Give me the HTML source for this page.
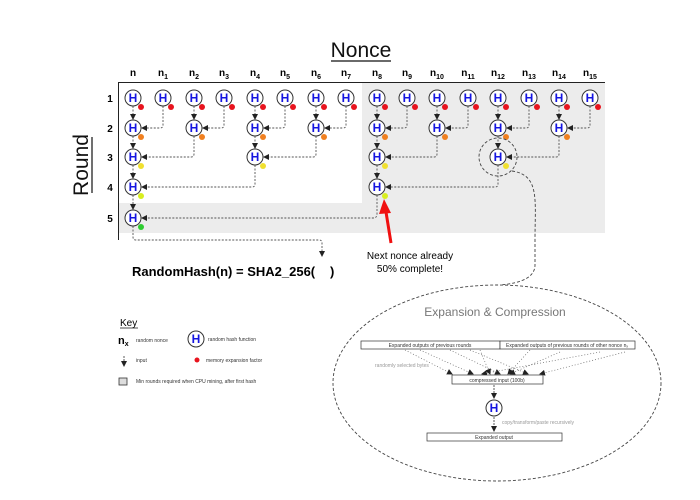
<!DOCTYPE html>
<html><head><meta charset="utf-8"><style>
html,body{margin:0;padding:0;background:#fff;}
svg{display:block;font-family:"Liberation Sans",sans-serif;}
.h{font-weight:bold;font-size:12px;fill:#1515e0;text-anchor:middle;}
.n{fill:#fff;stroke:#333;stroke-width:1;}
.d{fill:none;stroke:#555;stroke-width:0.9;stroke-dasharray:2 1.5;}
.cl{font-weight:bold;font-size:10px;text-anchor:middle;}
.sm{font-size:5px;fill:#333;text-anchor:middle;}
.g{font-size:5px;fill:#999;}
</style></head><body>
<svg width="700" height="500" viewBox="0 0 700 500" xmlns="http://www.w3.org/2000/svg">
<defs>
<marker id="a" markerWidth="6" markerHeight="6" refX="5" refY="3" orient="auto" markerUnits="userSpaceOnUse"><path d="M0,0 L6,3 L0,6 z" fill="#222"/></marker>
<marker id="b" markerWidth="8" markerHeight="8" refX="7" refY="4" orient="auto" markerUnits="userSpaceOnUse"><path d="M0,0 L8,4 L0,8 z" fill="#222"/></marker>
</defs>
<!-- backgrounds -->
<rect x="362" y="83" width="243" height="150" fill="#ececec"/>
<rect x="118" y="203" width="487" height="30" fill="#ececec"/>
<line x1="118" y1="82.5" x2="605" y2="82.5" stroke="#222" stroke-width="1"/>
<line x1="118.5" y1="82" x2="118.5" y2="240" stroke="#222" stroke-width="1"/>
<!-- titles -->
<text x="361" y="57" font-size="21" text-anchor="middle" fill="#111">Nonce</text>
<line x1="331" y1="61" x2="391" y2="61" stroke="#111" stroke-width="1.2"/>
<text transform="translate(88,165) rotate(-90)" font-size="21" text-anchor="middle" fill="#111">Round</text>
<line x1="92" y1="137" x2="92" y2="193" stroke="#111" stroke-width="1.2"/>
<!-- column labels -->
<g class="cl">
<text x="133" y="76">n</text>
<text x="163" y="76">n<tspan font-size="7" dy="3">1</tspan></text>
<text x="194" y="76">n<tspan font-size="7" dy="3">2</tspan></text>
<text x="224" y="76">n<tspan font-size="7" dy="3">3</tspan></text>
<text x="255" y="76">n<tspan font-size="7" dy="3">4</tspan></text>
<text x="285" y="76">n<tspan font-size="7" dy="3">5</tspan></text>
<text x="316" y="76">n<tspan font-size="7" dy="3">6</tspan></text>
<text x="346" y="76">n<tspan font-size="7" dy="3">7</tspan></text>
<text x="377" y="76">n<tspan font-size="7" dy="3">8</tspan></text>
<text x="407" y="76">n<tspan font-size="7" dy="3">9</tspan></text>
<text x="437" y="76">n<tspan font-size="7" dy="3">10</tspan></text>
<text x="468" y="76">n<tspan font-size="7" dy="3">11</tspan></text>
<text x="498" y="76">n<tspan font-size="7" dy="3">12</tspan></text>
<text x="529" y="76">n<tspan font-size="7" dy="3">13</tspan></text>
<text x="559" y="76">n<tspan font-size="7" dy="3">14</tspan></text>
<text x="590" y="76">n<tspan font-size="7" dy="3">15</tspan></text>
<text x="110" y="102">1</text><text x="110" y="132">2</text><text x="110" y="161">3</text><text x="110" y="191">4</text><text x="110" y="222">5</text>
</g>
<!-- connectors -->
<g class="d" marker-end="url(#a)">
<line x1="133" y1="106" x2="133" y2="119"/><line x1="194" y1="106" x2="194" y2="119"/><line x1="255" y1="106" x2="255" y2="119"/><line x1="316" y1="106" x2="316" y2="119"/>
<line x1="377" y1="106" x2="377" y2="119"/><line x1="437" y1="106" x2="437" y2="119"/><line x1="498" y1="106" x2="498" y2="119"/><line x1="559" y1="106" x2="559" y2="119"/>
<path d="M163,106 V125 Q163,128 160,128 H142"/><path d="M224,106 V125 Q224,128 221,128 H203"/><path d="M285,106 V125 Q285,128 282,128 H264"/><path d="M346,106 V125 Q346,128 343,128 H325"/>
<path d="M407,106 V125 Q407,128 404,128 H386"/><path d="M468,106 V125 Q468,128 465,128 H446"/><path d="M529,106 V125 Q529,128 526,128 H507"/><path d="M590,106 V125 Q590,128 587,128 H568"/>
<line x1="133" y1="136" x2="133" y2="148"/><line x1="255" y1="136" x2="255" y2="148"/><line x1="377" y1="136" x2="377" y2="148"/><line x1="498" y1="136" x2="498" y2="148"/>
<path d="M194,136 V154 Q194,157 191,157 H142"/><path d="M316,136 V154 Q316,157 313,157 H264"/><path d="M437,136 V154 Q437,157 434,157 H386"/><path d="M559,136 V154 Q559,157 556,157 H507"/>
<line x1="133" y1="165" x2="133" y2="178"/><line x1="377" y1="165" x2="377" y2="178"/>
<path d="M255,165 V184 Q255,187 252,187 H142"/><path d="M498,165 V184 Q498,187 495,187 H386"/>
<line x1="133" y1="195" x2="133" y2="209"/>
<path d="M377,195 V214 Q377,218 373,218 H142"/>
<path d="M133,226 V237 Q133,240 136,240 H319 Q322,240 322,243 V256"/>
</g>
<!-- nodes -->
<g>
<g class="n">
<circle cx="133" cy="98" r="8"/><circle cx="163" cy="98" r="8"/><circle cx="194" cy="98" r="8"/><circle cx="224" cy="98" r="8"/><circle cx="255" cy="98" r="8"/><circle cx="285" cy="98" r="8"/><circle cx="316" cy="98" r="8"/><circle cx="346" cy="98" r="8"/>
<circle cx="377" cy="98" r="8"/><circle cx="407" cy="98" r="8"/><circle cx="437" cy="98" r="8"/><circle cx="468" cy="98" r="8"/><circle cx="498" cy="98" r="8"/><circle cx="529" cy="98" r="8"/><circle cx="559" cy="98" r="8"/><circle cx="590" cy="98" r="8"/>
<circle cx="133" cy="128" r="8"/><circle cx="194" cy="128" r="8"/><circle cx="255" cy="128" r="8"/><circle cx="316" cy="128" r="8"/><circle cx="377" cy="128" r="8"/><circle cx="437" cy="128" r="8"/><circle cx="498" cy="128" r="8"/><circle cx="559" cy="128" r="8"/>
<circle cx="133" cy="157" r="8"/><circle cx="255" cy="157" r="8"/><circle cx="377" cy="157" r="8"/><circle cx="498" cy="157" r="8"/>
<circle cx="133" cy="187" r="8"/><circle cx="377" cy="187" r="8"/>
<circle cx="133" cy="218" r="8"/>
</g>
<g fill="#e8141e">
<circle cx="141" cy="107" r="3"/><circle cx="171" cy="107" r="3"/><circle cx="202" cy="107" r="3"/><circle cx="232" cy="107" r="3"/><circle cx="263" cy="107" r="3"/><circle cx="293" cy="107" r="3"/><circle cx="324" cy="107" r="3"/><circle cx="354" cy="107" r="3"/>
<circle cx="385" cy="107" r="3"/><circle cx="415" cy="107" r="3"/><circle cx="445" cy="107" r="3"/><circle cx="476" cy="107" r="3"/><circle cx="506" cy="107" r="3"/><circle cx="537" cy="107" r="3"/><circle cx="567" cy="107" r="3"/><circle cx="598" cy="107" r="3"/>
</g>
<g fill="#f08020">
<circle cx="141" cy="137" r="3"/><circle cx="202" cy="137" r="3"/><circle cx="263" cy="137" r="3"/><circle cx="324" cy="137" r="3"/><circle cx="385" cy="137" r="3"/><circle cx="445" cy="137" r="3"/><circle cx="506" cy="137" r="3"/><circle cx="567" cy="137" r="3"/>
</g>
<g fill="#f0e030"><circle cx="141" cy="166" r="3"/><circle cx="263" cy="166" r="3"/><circle cx="385" cy="166" r="3"/><circle cx="506" cy="166" r="3"/></g>
<g fill="#d8ee20"><circle cx="141" cy="196" r="3"/><circle cx="385" cy="196" r="3"/></g>
<circle cx="141" cy="227" r="3" fill="#2ecc30"/>
<g class="h">
<text x="133" y="102">H</text><text x="163" y="102">H</text><text x="194" y="102">H</text><text x="224" y="102">H</text><text x="255" y="102">H</text><text x="285" y="102">H</text><text x="316" y="102">H</text><text x="346" y="102">H</text>
<text x="377" y="102">H</text><text x="407" y="102">H</text><text x="437" y="102">H</text><text x="468" y="102">H</text><text x="498" y="102">H</text><text x="529" y="102">H</text><text x="559" y="102">H</text><text x="590" y="102">H</text>
<text x="133" y="132">H</text><text x="194" y="132">H</text><text x="255" y="132">H</text><text x="316" y="132">H</text><text x="377" y="132">H</text><text x="437" y="132">H</text><text x="498" y="132">H</text><text x="559" y="132">H</text>
<text x="133" y="161">H</text><text x="255" y="161">H</text><text x="377" y="161">H</text><text x="498" y="161">H</text>
<text x="133" y="191">H</text><text x="377" y="191">H</text>
<text x="133" y="222">H</text>
</g>
</g>
<!-- dashed circle & curve -->
<circle cx="498" cy="157" r="19" fill="none" stroke="#444" stroke-width="0.9" stroke-dasharray="3 2"/>
<path d="M512,171 C540,175 535,200 535,240 V265 Q535,282 500,285" fill="none" stroke="#444" stroke-width="0.9" stroke-dasharray="3 2"/>
<!-- red arrow -->
<line x1="391" y1="243" x2="386" y2="212" stroke="#f01010" stroke-width="3"/>
<path d="M384,199 L379,214 L391,213 z" fill="#f01010"/>
<text x="410" y="259" font-size="10" text-anchor="middle">Next nonce already</text>
<text x="410" y="272" font-size="10" text-anchor="middle">50% complete!</text>
<!-- formula -->
<text x="132" y="276" font-size="13" font-weight="bold">RandomHash(n) = SHA2_256(</text>
<text x="330" y="276" font-size="13" font-weight="bold">)</text>
<!-- key -->
<text x="120" y="326" font-size="10">Key</text>
<line x1="120" y1="328" x2="138" y2="328" stroke="#111" stroke-width="0.8"/>
<text x="118" y="344" font-size="11" font-weight="bold">n<tspan font-size="7" dy="2">x</tspan></text>
<text x="136" y="342" font-size="5" fill="#333">random nonce</text>
<circle cx="196" cy="339" r="8" class="n"/><text x="196" y="343" class="h">H</text>
<text x="208" y="341" font-size="5" fill="#333">random hash function</text>
<line x1="124" y1="356" x2="124" y2="366" stroke="#333" stroke-width="0.8" stroke-dasharray="2 1" marker-end="url(#a)"/>
<text x="136" y="362" font-size="5" fill="#333">input</text>
<circle cx="197" cy="360" r="2.5" fill="#e8141e"/>
<text x="206" y="362" font-size="5" fill="#333">memory expansion factor</text>
<rect x="119" y="378" width="8" height="7" fill="#ddd" stroke="#333" stroke-width="0.8"/>
<text x="136" y="383" font-size="5" fill="#333">Min rounds required when CPU mining, after first hash</text>
<!-- ellipse -->
<ellipse cx="497" cy="383" rx="164" ry="98" fill="none" stroke="#444" stroke-width="0.9" stroke-dasharray="3 2"/>
<text x="495" y="316" font-size="12" fill="#777" text-anchor="middle">Expansion &amp; Compression</text>
<rect x="361" y="341" width="139" height="8" fill="#fff" stroke="#333" stroke-width="0.7"/>
<rect x="500" y="341" width="135" height="8" fill="#fff" stroke="#333" stroke-width="0.7"/>
<text x="430" y="347" class="sm">Expanded outputs of previous rounds</text>
<text x="567" y="347" class="sm">Expanded outputs of previous rounds of other nonce nₓ</text>
<g fill="none" stroke="#666" stroke-width="0.7" stroke-dasharray="1 2" marker-end="url(#a)">
<path d="M405,350 L452,374"/><path d="M420,350 L473,374"/><path d="M450,350 L500,374"/><path d="M470,350 L528,374"/>
<path d="M480,350 L490,374"/><path d="M530,350 L508,374"/><path d="M600,352 L482,374"/><path d="M625,352 L540,374"/><path d="M560,352 L510,374"/>
</g>
<text x="375" y="367" class="g">randomly selected bytes</text>
<rect x="452" y="375" width="91" height="9" fill="#fff" stroke="#333" stroke-width="0.7"/>
<text x="497" y="382" class="sm">compressed input (100b)</text>
<line x1="494" y1="385" x2="494" y2="398" stroke="#333" stroke-width="0.8" stroke-dasharray="2 1" marker-end="url(#a)"/>
<circle cx="494" cy="408" r="8" class="n"/><text x="494" y="412" class="h">H</text>
<line x1="494" y1="417" x2="494" y2="431" stroke="#333" stroke-width="0.8" stroke-dasharray="2 1" marker-end="url(#a)"/>
<text x="502" y="424" class="g">copy/transform/paste recursively</text>
<rect x="427" y="433" width="135" height="8" fill="#fff" stroke="#333" stroke-width="0.7"/>
<text x="494" y="439" class="sm">Expanded output</text>
</svg>
</body></html>
